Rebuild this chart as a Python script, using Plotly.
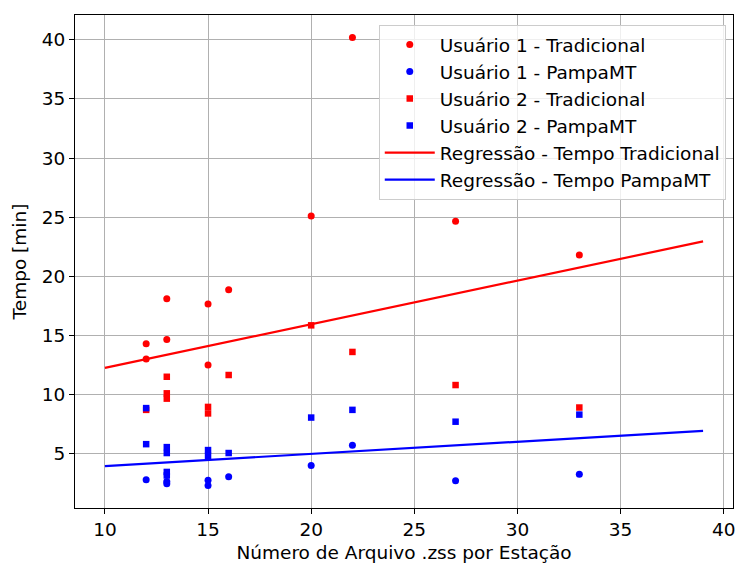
import plotly.graph_objects as go

# Number of .zss files per station and elapsed time (minutes) for each user / method
u1_x = [12, 12, 13, 13, 15, 15, 16, 20, 22, 27, 33]
u1_trad = [14.3, 13.0, 18.1, 14.65, 17.65, 12.5, 18.85, 25.1, 40.2, 24.65, 21.8]
u1_pampa_x = [12, 13, 13, 15, 15, 16, 20, 22, 27, 33]
u1_pampa = [2.8, 2.65, 2.45, 2.75, 2.3, 3.05, 4.0, 5.7, 2.7, 3.25]

u2_trad_x = [12, 13, 13, 13, 15, 15, 16, 20, 22, 27, 33]
u2_trad = [8.7, 11.5, 10.1, 9.65, 8.95, 8.4, 11.65, 15.85, 13.6, 10.8, 8.9]
u2_pampa_x = [12, 12, 13, 13, 13, 13, 15, 15, 16, 20, 22, 27, 33]
u2_pampa = [8.85, 5.8, 5.55, 5.05, 3.45, 3.15, 5.3, 4.8, 5.05, 8.05, 8.7, 7.7, 8.3]

# Fitted regression lines (endpoints)
reg_x = [10, 39]
reg_trad = [12.25, 22.95]
reg_pampa = [3.95, 6.93]

font = "DejaVu Sans"
fsize = 18.5

fig = go.Figure()
fig.add_trace(go.Scatter(x=u1_x, y=u1_trad, mode="markers", name="Usuário 1 - Tradicional",
                         marker=dict(color="red", symbol="circle", size=7)))
fig.add_trace(go.Scatter(x=u1_pampa_x, y=u1_pampa, mode="markers", name="Usuário 1 - PampaMT",
                         marker=dict(color="blue", symbol="circle", size=7)))
fig.add_trace(go.Scatter(x=u2_trad_x, y=u2_trad, mode="markers", name="Usuário 2 - Tradicional",
                         marker=dict(color="red", symbol="square", size=6.5)))
fig.add_trace(go.Scatter(x=u2_pampa_x, y=u2_pampa, mode="markers", name="Usuário 2 - PampaMT",
                         marker=dict(color="blue", symbol="square", size=6.5)))
fig.add_trace(go.Scatter(x=reg_x, y=reg_trad, mode="lines", name="Regressão - Tempo Tradicional",
                         line=dict(color="red", width=2.2)))
fig.add_trace(go.Scatter(x=reg_x, y=reg_pampa, mode="lines", name="Regressão - Tempo PampaMT",
                         line=dict(color="blue", width=2.2)))

axis_common = dict(
    showline=True, linecolor="black", linewidth=1.2, mirror=True,
    showgrid=True, gridcolor="#b0b0b0", gridwidth=1.2,
    ticks="outside", ticklen=5, tickwidth=1.2, tickcolor="black",
    zeroline=False, tickfont=dict(family=font, size=fsize, color="black"),
)

fig.update_layout(
    width=741, height=566,
    margin=dict(l=75, r=6, t=15, b=58),
    paper_bgcolor="white", plot_bgcolor="white",
    font=dict(family=font, size=fsize, color="black"),
    xaxis=dict(range=[8.55, 40.45], tickvals=[10, 15, 20, 25, 30, 35, 40],
               title=dict(text="Número de Arquivo .zss por Estação", font=dict(size=fsize), standoff=6),
               **axis_common),
    yaxis=dict(range=[0.4, 42.1], tickvals=[5, 10, 15, 20, 25, 30, 35, 40],
               title=dict(text="Tempo [min]", font=dict(size=fsize), standoff=10),
               **axis_common),
    legend=dict(x=0.989, y=0.98, xanchor="right", yanchor="top",
                bgcolor="rgba(255,255,255,0.8)", bordercolor="#cccccc", borderwidth=1,
                font=dict(family=font, size=fsize, color="black"), tracegroupgap=0,
                itemwidth=50),
    showlegend=True,
)

fig.write_html("out.html")
